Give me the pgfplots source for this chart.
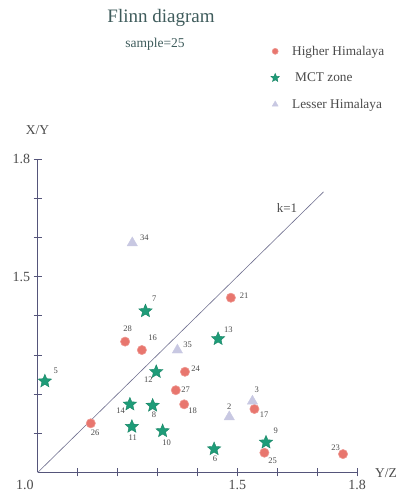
\documentclass[border=0pt]{standalone}
\usepackage{pgfplots}
\pgfplotsset{compat=1.18}
\usepackage{fontspec}
\setmainfont{Liberation Serif}
\usetikzlibrary{plotmarks}
\definecolor{hh}{HTML}{E8766E}
\definecolor{mct}{HTML}{1E9C78}
\definecolor{lh}{HTML}{C8C8E2}
\definecolor{ax}{HTML}{55557A}
\definecolor{txt}{HTML}{4A4A4A}
\definecolor{ttl}{HTML}{3F5C5C}
\pgfdeclareplotmark{fstar}{%
 \pgfpathmoveto{\pgfpointpolar{90}{\pgfplotmarksize}}%
 \pgfpathlineto{\pgfpointpolar{126}{0.45\pgfplotmarksize}}%
 \pgfpathlineto{\pgfpointpolar{162}{\pgfplotmarksize}}%
 \pgfpathlineto{\pgfpointpolar{198}{0.45\pgfplotmarksize}}%
 \pgfpathlineto{\pgfpointpolar{234}{\pgfplotmarksize}}%
 \pgfpathlineto{\pgfpointpolar{270}{0.45\pgfplotmarksize}}%
 \pgfpathlineto{\pgfpointpolar{306}{\pgfplotmarksize}}%
 \pgfpathlineto{\pgfpointpolar{342}{0.45\pgfplotmarksize}}%
 \pgfpathlineto{\pgfpointpolar{18}{\pgfplotmarksize}}%
 \pgfpathlineto{\pgfpointpolar{54}{0.45\pgfplotmarksize}}%
 \pgfpathclose
 \pgfusepathqfillstroke
}
\newcommand{\lbl}{\fontsize{8.5}{9}\selectfont}
\begin{document}
\begin{tikzpicture}[x=1pt,y=1pt]
\path[use as bounding box] (0,0) rectangle (398,493);
\begin{axis}[
 at={(37.7pt,20.5pt)}, anchor=south west, scale only axis,
 width=319.3pt, height=313.5pt,
 xmin=1, xmax=1.8, ymin=1, ymax=1.8,
 axis x line=bottom, axis y line=left,
 axis line style={ax, -, line width=0.8pt},
 tick style={ax, line width=0.8pt},
 tick align=center, major tick length=8pt,
 xtick={1.1,1.2,1.3,1.4,1.5,1.6,1.7,1.8},
 ytick={1.1,1.2,1.3,1.4,1.5,1.6,1.7,1.8},
 xticklabels={,,,,1.5,,,1.8},
 yticklabels={,,,,1.5,,,1.8},
 /pgf/number format/assume math mode=true,
 ticklabel style={font=\fontsize{14}{16}\selectfont, text=txt},
 clip=false,
 legend image code/.code={\path[draw=none,fill=none] (0pt,0pt) -- (21pt,0pt);\draw[#1, only marks] plot coordinates {(6pt,0pt)};},
 legend style={at={(0.715,1.374)}, anchor=north west, draw=none, fill=none,
   font=\fontsize{13.3}{15}\selectfont, text=txt, row sep=12pt,
   legend cell align=left},
]
\addplot[only marks, mark=*, mark size=4.6pt, mark options={fill=hh, draw=hh!75!white, line width=0.6pt},
  legend image post style={mark size=3pt}]
 coordinates {
 (1.484,1.446) (1.219,1.334) (1.261,1.3125) (1.369,1.257) (1.346,1.210)
 (1.367,1.174) (1.133,1.1255) (1.543,1.162) (1.568,1.0505) (1.765,1.047)
 };
\addlegendentry{Higher Himalaya}
\addplot[only marks, mark=fstar, mark size=7pt, mark options={fill=mct, draw=mct!85!black, line width=0.4pt},
  legend image post style={mark size=4.5pt}]
 coordinates {
 (1.270,1.412) (1.018,1.233) (1.297,1.257) (1.231,1.174) (1.288,1.171)
 (1.236,1.117) (1.313,1.106) (1.452,1.341) (1.442,1.060) (1.572,1.077)
 };
\addlegendentry{\hspace{3pt}MCT zone}
\addplot[only marks, mark=triangle*, mark size=6pt, mark options={fill=lh, draw=lh, line width=0.3pt},
  legend image post style={mark size=3.5pt}]
 coordinates {
 (1.237,1.586) (1.350,1.3125) (1.538,1.182) (1.480,1.142)
 };
\addlegendentry{Lesser Himalaya}
\addplot[ax!85, line width=0.6pt, forget plot] coordinates {(1,1) (1.716,1.716)};
\end{axis}
% titles and texts
\node[text=ttl, font=\fontsize{19}{22}\selectfont] at (161,475) {Flinn diagram};
\node[text=ttl, font=\fontsize{13.5}{16}\selectfont] at (155,449) {sample=25};
\node[text=txt, font=\fontsize{13.5}{16}\selectfont] at (37.5,363) {X/Y};
\node[text=txt, font=\fontsize{13.5}{16}\selectfont] at (386,20) {Y/Z};
\node[text=txt, font=\fontsize{14}{16}\selectfont, inner sep=1pt] at (25,8.5) {1.0};
\node[text=txt, font=\fontsize{13}{15}\selectfont] at (287,285) {k=1};
% point labels
\begin{scope}[every node/.style={text=txt, font=\lbl, inner sep=0pt}]
\node at (127.7,164.7) {28};
\node at (152.7,155.7) {16};
\node at (187.7,148.7) {35};
\node at (55.7,122.3) {5};
\node at (195.7,124.7) {24};
\node at (148.3,113) {12};
\node at (185.7,103) {27};
\node at (120.7,82) {14};
\node at (154,78) {8};
\node at (192.7,82) {18};
\node at (95,60.3) {26};
\node at (132.7,55.3) {11};
\node at (166.7,50.3) {10};
\node at (154.3,194.7) {7};
\node at (144.3,255.7) {34};
\node at (244,197) {21};
\node at (228.3,163) {13};
\node at (256.7,103.7) {3};
\node at (229.3,86.3) {2};
\node at (264,78) {17};
\node at (275.7,62) {9};
\node at (215,34.7) {6};
\node at (272.7,32.3) {25};
\node at (335.7,45.3) {23};
\end{scope}
\end{tikzpicture}
\end{document}
